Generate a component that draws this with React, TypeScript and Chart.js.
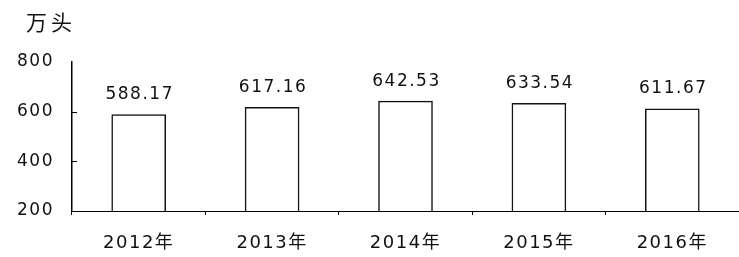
import React, { useEffect, useRef } from "react";
import { Chart, registerables } from "chart.js";

Chart.register(...registerables);

const categories = ["2012年", "2013年", "2014年", "2015年", "2016年"];
const values = [588.17, 617.16, 642.53, 633.54, 611.67];
const valueLabels = ["588.17", "617.16", "642.53", "633.54", "611.67"];
const yTicks = [200, 400, 600, 800];
const unitLabel = "万头";

const FONT = '"DejaVu Sans", "Noto Sans CJK SC", sans-serif';

const spacingPlugin = {
  id: "spacing",
  beforeDraw(chart: any) {
    (chart.ctx as any).letterSpacing = "1.5px";
  },
};

const overlayPlugin = {
  id: "overlay",
  afterDatasetsDraw(chart: any) {
    const ctx = chart.ctx;
    const meta = chart.getDatasetMeta(0);
    ctx.save();
    (ctx as any).letterSpacing = "1.5px";
    ctx.fillStyle = "#111";
    ctx.font = `17px ${FONT}`;
    ctx.textAlign = "center";
    ctx.textBaseline = "middle";
    meta.data.forEach((bar: any, i: number) => {
      ctx.fillText(valueLabels[i], bar.x + 1, bar.y - 20);
    });
    (ctx as any).letterSpacing = "4px";
    ctx.font = `21px ${FONT}`;
    ctx.textAlign = "left";
    ctx.fillText(unitLabel, 26, 25);
    const ys = chart.scales.y;
    ctx.strokeStyle = "#000";
    ctx.lineWidth = 1;
    [400, 600].forEach((v) => {
      const py = Math.round(ys.getPixelForValue(v)) + 0.5;
      ctx.beginPath();
      ctx.moveTo(ys.right, py);
      ctx.lineTo(ys.right + 5, py);
      ctx.stroke();
    });
    ctx.restore();
  },
};

export default function App() {
  const ref = useRef<HTMLCanvasElement | null>(null);
  useEffect(() => {
    document.body.style.margin = "0";
    const chart = new Chart(ref.current!, {
      type: "bar",
      data: {
        labels: categories,
        datasets: [
          {
            data: values,
            backgroundColor: "#ffffff",
            borderColor: "#111",
            borderWidth: 1.5,
            barThickness: 54,
          },
        ],
      },
      options: {
        responsive: false,
        animation: false,
        events: [],
        layout: { padding: { top: 62, right: 0, left: 0, bottom: 0 } },
        plugins: { legend: { display: false }, tooltip: { enabled: false } },
        scales: {
          x: {
            afterFit: (s: any) => {
              s.height = 46;
            },
            grid: {
              offset: true,
              drawOnChartArea: false,
              drawTicks: true,
              tickLength: 4,
              color: "#000",
            },
            border: { display: true, color: "#000", width: 1, dash: [1, 2] },
            ticks: {
              color: "#111",
              font: { size: 18, family: FONT },
              padding: 18,
            },
          },
          y: {
            min: 200,
            max: 800,
            afterFit: (s: any) => {
              s.width = 72;
            },
            afterBuildTicks: (s: any) => {
              s.ticks = yTicks.map((v) => ({ value: v }));
            },
            grid: { display: false, drawTicks: false },
            border: { display: true, color: "#000", width: 1.5 },
            ticks: {
              color: "#111",
              font: { size: 17, family: FONT },
              padding: 18,
            },
          },
        },
      },
      plugins: [spacingPlugin, overlayPlugin],
    });
    return () => chart.destroy();
  }, []);
  return (
    <div style={{ width: 739, height: 257, background: "#fff" }}>
      <canvas ref={ref} width={739} height={257} />
    </div>
  );
}
